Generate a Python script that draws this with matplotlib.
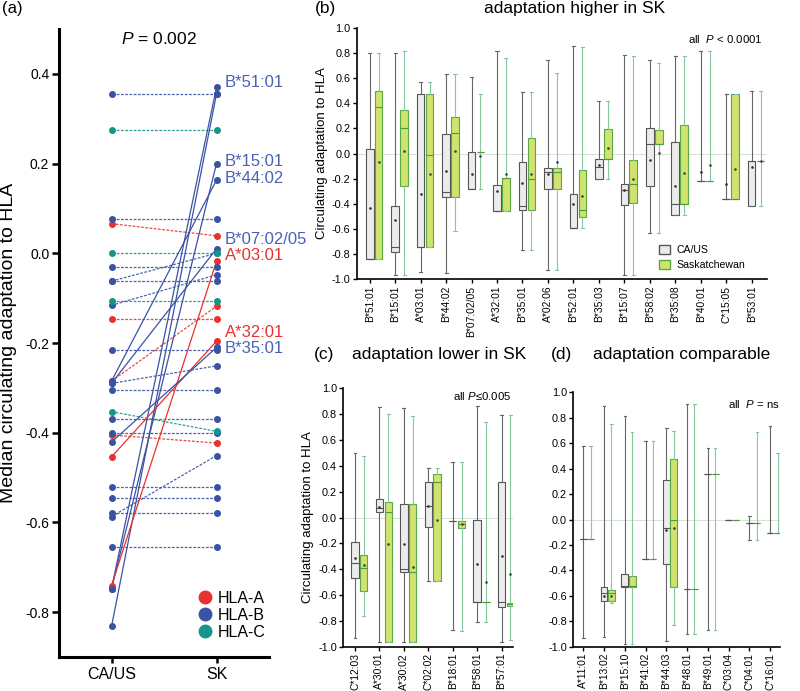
import numpy as np
import matplotlib
matplotlib.use('Agg')
import matplotlib.pyplot as plt
from matplotlib.lines import Line2D
from matplotlib.patches import Patch

plt.rcParams['font.family'] = ['Liberation Sans', 'DejaVu Sans']
plt.rcParams['mathtext.fontset'] = 'custom'
plt.rcParams['mathtext.rm'] = 'Liberation Sans'
plt.rcParams['mathtext.it'] = 'Liberation Sans:italic'
plt.rcParams['axes.unicode_minus'] = False

# ---- panel (a): median adaptation per allele, CA/US vs SK
a_ca = [0.355, 0.274, 0.077, 0.066, 0.0, -0.03, -0.062, -0.062, -0.107, -0.116,
        -0.146, -0.216, -0.285, -0.29, -0.304, -0.353, -0.369, -0.40, -0.405,
        -0.521, -0.546, -0.579, -0.587, -0.654,
        -0.832, -0.748, -0.748, -0.285, -0.29, -0.741, -0.454, -0.421]
a_sk = [0.355, 0.274, 0.077, 0.039, 0.0, -0.03, 0.0, -0.062, -0.107, -0.048,
        -0.146, -0.216, -0.118, -0.251, -0.304, -0.397, -0.369, -0.40, -0.423,
        -0.521, -0.546, -0.579, -0.451, -0.654,
        0.355, 0.37, 0.2, 0.163, 0.01, -0.018, -0.196, -0.21]
a_locus = ['B', 'C', 'B', 'A', 'C', 'B', 'B', 'B', 'C', 'B',
           'A', 'B', 'A', 'B', 'B', 'C', 'B', 'B', 'A',
           'B', 'B', 'B', 'B', 'B',
           'B', 'B', 'B', 'B', 'B', 'A', 'A', 'B']
a_sig = [False] * 24 + [True] * 8
a_labels = ['B*51:01', 'B*15:01', 'B*44:02', 'B*07:02/05', 'A*03:01', 'A*32:01', 'B*35:01']
a_label_locus = ['B', 'B', 'B', 'B', 'A', 'A', 'B']
a_label_y = [0.381, 0.204, 0.166, 0.031, -0.006, -0.176, -0.212]

# ---- panel (b): adaptation higher in SK
b_alleles = ['B*51:01', 'B*15:01', 'A*03:01', 'B*44:02', 'B*07:02/05', 'A*32:01', 'B*35:01',
             'A*02:06', 'B*52:01', 'B*35:03', 'B*15:07', 'B*58:02', 'B*35:08', 'B*40:01',
             'C*15:05', 'B*53:01']
b_ca_lo = [-0.84, -0.965, -0.945, -0.952, -0.285, -0.455, -0.767, -0.925, -0.595, -0.205, -0.965, -0.63, -0.49, -0.215, -0.365, -0.42]
b_ca_q1 = [-0.84, -0.785, -0.74, -0.348, -0.285, -0.455, -0.452, -0.285, -0.595, -0.205, -0.413, -0.26, -0.49, -0.215, -0.365, -0.42]
b_ca_med = [-0.835, -0.745, -0.74, -0.303, -0.285, -0.455, -0.417, -0.146, -0.59, -0.11, -0.29, 0.078, -0.40, -0.215, -0.365, -0.06]
b_ca_q3 = [0.036, -0.42, 0.475, 0.157, 0.012, -0.253, -0.07, -0.115, -0.325, -0.046, -0.243, 0.2, 0.088, -0.215, -0.365, -0.06]
b_ca_hi = [0.80, 0.80, 0.565, 0.63, 0.61, 0.817, 0.486, 0.74, 0.855, 0.417, 0.78, 0.743, 0.775, 0.815, 0.47, 0.5]
b_ca_mean = [-0.436, -0.53, -0.32, -0.137, -0.165, -0.30, -0.232, -0.163, -0.40, -0.094, -0.29, -0.052, -0.26, -0.15, -0.245, -0.105]
b_sk_lo = [-0.84, -0.965, -0.74, -0.62, -0.285, -0.455, -0.767, -0.925, -0.595, -0.205, -0.965, -0.63, -0.485, -0.215, -0.365, -0.42]
b_sk_q1 = [-0.835, -0.26, -0.74, -0.348, 0.01, -0.455, -0.452, -0.285, -0.507, -0.046, -0.396, 0.075, -0.40, -0.215, -0.365, -0.06]
b_sk_med = [0.372, 0.2, -0.015, 0.165, 0.01, -0.192, -0.205, -0.146, -0.45, -0.046, -0.245, 0.075, -0.40, -0.215, -0.365, -0.06]
b_sk_q3 = [0.497, 0.343, 0.475, 0.29, 0.01, -0.192, 0.126, -0.115, -0.13, 0.197, -0.05, 0.19, 0.224, -0.215, 0.47, -0.06]
b_sk_hi = [0.795, 0.817, 0.565, 0.63, 0.47, 0.76, 0.486, 0.64, 0.85, 0.417, 0.775, 0.722, 0.775, 0.815, 0.47, 0.5]
b_sk_mean = [-0.065, 0.022, -0.165, 0.022, -0.02, -0.163, -0.165, -0.065, -0.335, 0.041, -0.2, 0.007, -0.157, -0.094, -0.123, -0.06]

# ---- panel (c): adaptation lower in SK
c_alleles = ['C*12:03', 'A*30:01', 'A*30:02', 'C*02:02', 'B*18:01', 'B*58:01', 'B*57:01']
c_ca_lo = [-0.935, -0.961, -0.961, -0.492, -0.873, -0.81, -0.961]
c_ca_q1 = [-0.466, 0.04, -0.425, -0.074, -0.027, -0.655, -0.695]
c_ca_med = [-0.355, 0.071, -0.40, 0.09, -0.027, -0.655, -0.657]
c_ca_q3 = [-0.192, 0.14, 0.104, 0.277, -0.027, -0.02, 0.272]
c_ca_hi = [0.497, 0.858, 0.85, 0.38, 0.43, 0.863, 0.793]
c_ca_mean = [-0.31, 0.084, -0.207, 0.09, None, -0.36, -0.30]
c_sk_lo = [-0.763, -0.961, -0.961, -0.492, -0.877, -0.812, -0.948]
c_sk_q1 = [-0.57, -0.961, -0.961, -0.492, -0.08, -0.652, -0.685]
c_sk_med = [-0.394, 0.04, -0.425, 0.277, -0.05, -0.652, -0.67]
c_sk_q3 = [-0.293, 0.117, 0.104, 0.333, -0.027, -0.652, -0.658]
c_sk_hi = [0.476, 0.8, 0.785, 0.38, 0.43, 0.742, 0.793]
c_sk_mean = [-0.368, -0.207, -0.38, -0.02, -0.05, -0.497, -0.437]

# ---- panel (d): adaptation comparable
d_alleles = ['A*11:01', 'B*13:02', 'B*15:10', 'B*41:02', 'B*44:03', 'B*48:01', 'B*49:01',
             'C*03:04', 'C*04:01', 'C*16:01']
d_ca_lo = [-0.928, -0.923, -0.975, -0.307, -0.957, -0.904, -0.865, 0.0, -0.163, -0.105]
d_ca_q1 = [-0.15, -0.643, -0.53, -0.307, -0.346, -0.548, 0.357, 0.0, -0.03, -0.105]
d_ca_med = [-0.15, -0.575, -0.52, -0.307, -0.063, -0.548, 0.357, 0.0, -0.03, -0.105]
d_ca_q3 = [-0.15, -0.53, -0.432, -0.307, 0.31, -0.548, 0.357, 0.0, -0.03, -0.105]
d_ca_hi = [0.58, 0.89, 0.813, 0.616, 0.72, 0.905, 0.564, 0.0, 0.026, 0.737]
d_ca_mean = [None, -0.6, None, None, -0.08, None, None, None, None, None]
d_sk_lo = [-0.15, -0.66, -0.975, -0.307, -0.826, -0.904, -0.865, 0.0, -0.163, -0.105]
d_sk_q1 = [-0.15, -0.643, -0.53, -0.307, -0.53, -0.548, 0.357, 0.0, -0.03, -0.105]
d_sk_med = [-0.15, -0.575, -0.525, -0.307, 0.0, -0.548, 0.357, 0.0, -0.03, -0.105]
d_sk_q3 = [-0.15, -0.556, -0.443, -0.307, 0.472, -0.548, 0.357, 0.0, -0.03, -0.105]
d_sk_hi = [0.58, 0.747, 0.684, 0.616, 0.695, 0.905, 0.564, 0.0, 0.684, 0.52]
d_sk_mean = [None, -0.6, None, None, -0.063, None, None, None, None, None]

locus_colors = {'A': '#e8322e', 'B': '#3a52a3', 'C': '#17958a'}
label_colors = {'A': '#e8322e', 'B': '#4a62b4', 'C': '#17958a'}

W, H = 800, 691


def px_axes(fig, left, top, right, bottom):
    return fig.add_axes([left / W, 1 - bottom / H, (right - left) / W, (bottom - top) / H])


def fmt(v):
    v = round(v, 1)
    return '%.1f' % (0.0 if v == 0 else v)


def make_stats(lo, q1, med, q3, hi):
    return [dict(whislo=lo[i], q1=q1[i], med=med[i], q3=q3[i], whishi=hi[i], fliers=[])
            for i in range(len(lo))]


def draw_boxes(ax, names, ca, sk, ca_mean, sk_mean, xlim, width=0.3, offset=0.35):
    pos = np.arange(len(names))
    ax.axhline(0, color='#d3e3d3', lw=0.7, zorder=0)
    ax.bxp(make_stats(*ca), positions=pos, widths=width, patch_artist=True,
           showfliers=False, manage_ticks=False, capwidths=0.12,
           boxprops=dict(facecolor='#ececec', edgecolor='#555555', lw=0.8),
           whiskerprops=dict(color='#666666', lw=0.8),
           capprops=dict(color='#666666', lw=0.8),
           medianprops=dict(color='#555555', lw=0.8))
    ax.bxp(make_stats(*sk), positions=pos + offset, widths=width, patch_artist=True,
           showfliers=False, manage_ticks=False, capwidths=0.12,
           boxprops=dict(facecolor='#cfe36e', edgecolor='#5aa845', lw=0.8),
           whiskerprops=dict(color='#86c79d', lw=0.8),
           capprops=dict(color='#86c79d', lw=0.8),
           medianprops=dict(color='#4f9a3d', lw=0.8))
    cm = np.array([np.nan if v is None else v for v in ca_mean])
    sm = np.array([np.nan if v is None else v for v in sk_mean])
    ax.plot(pos, cm, ls='', marker='o', ms=0.9, color='#333333', zorder=5)
    ax.plot(pos + offset, sm, ls='', marker='o', ms=0.9, color='#444444', zorder=5)

    ax.set_xlim(*xlim)
    ax.set_ylim(-1.0, 1.0)
    yt = np.arange(-1.0, 1.01, 0.2)
    ax.set_yticks(yt)
    ax.set_yticklabels([fmt(v) for v in yt])
    ax.set_xticks(pos)
    ax.set_xticklabels(names, rotation=90, fontsize=7.4)
    ax.tick_params(axis='y', labelsize=7.8, length=3, width=1.0, pad=1.5)
    ax.tick_params(axis='x', length=3, width=1.0, pad=1.5)
    for s in ['top', 'right']:
        ax.spines[s].set_visible(False)
    for s in ['left', 'bottom']:
        ax.spines[s].set_linewidth(1.2)


fig = plt.figure(figsize=(W / 100, H / 100), dpi=100)

# ---------------- panel (a)
ax = px_axes(fig, 59, 29, 269, 657)
for i in range(len(a_ca)):
    col = locus_colors[a_locus[i]]
    if a_sig[i]:
        ax.plot([0, 1], [a_ca[i], a_sk[i]], color=col, lw=0.9, zorder=2)
    else:
        ax.plot([0, 1], [a_ca[i], a_sk[i]], color=col, lw=0.9, ls=(0, (2.2, 1.2)),
                alpha=0.9, zorder=1)
for loc in ['A', 'B', 'C']:
    idx = [i for i in range(len(a_ca)) if a_locus[i] == loc]
    ax.plot([0] * len(idx), [a_ca[i] for i in idx], ls='', marker='o', ms=4,
            color=locus_colors[loc], zorder=3)
    ax.plot([1] * len(idx), [a_sk[i] for i in idx], ls='', marker='o', ms=4,
            color=locus_colors[loc], zorder=3)
for lab, loc, yv in zip(a_labels, a_label_locus, a_label_y):
    ax.text(1.08, yv, lab, color=label_colors[loc], fontsize=12, va='center', ha='left',
            clip_on=False)
ax.text(0.45, 0.478, r'$\mathit{P}$ = 0.002', fontsize=12.5, ha='center', va='center')
ax.set_xlim(-0.5, 1.5)
ax.set_ylim(-0.9, 0.5)
ax.set_xticks([0, 1])
ax.set_xticklabels(['CA/US', 'SK'], fontsize=11.5)
yt = np.arange(-0.8, 0.41, 0.2)
ax.set_yticks(yt)
ax.set_yticklabels([fmt(v) for v in yt], fontsize=10)
ax.set_ylabel('Median circulating adaptation to HLA', fontsize=14, labelpad=6)
ax.tick_params(axis='y', length=5, width=1.8, pad=2)
ax.tick_params(axis='x', length=4, width=1.8, pad=3)
for s in ['top', 'right']:
    ax.spines[s].set_visible(False)
for s in ['left', 'bottom']:
    ax.spines[s].set_linewidth(2.2)
handles = [Line2D([], [], ls='', marker='o', ms=9, color=locus_colors[k]) for k in ['A', 'B', 'C']]
ax.legend(handles, ['HLA-A', 'HLA-B', 'HLA-C'], loc='lower right', bbox_to_anchor=(1.02, 0.015),
          frameon=False, fontsize=11.5, handletextpad=0.2, labelspacing=0.12, borderpad=0,
          handlelength=1.2)

# ---------------- panel (b)
ax = px_axes(fig, 356.7, 27.7, 766.7, 279.3)
draw_boxes(ax, b_alleles,
           (b_ca_lo, b_ca_q1, b_ca_med, b_ca_q3, b_ca_hi),
           (b_sk_lo, b_sk_q1, b_sk_med, b_sk_q3, b_sk_hi),
           b_ca_mean, b_sk_mean, (-0.51, 15.59))
ax.set_ylabel('Circulating adaptation to HLA', fontsize=9.5, labelpad=3)
ax.text(0.99, 0.955, r'all  $\mathit{P}$ < 0.0001', transform=ax.transAxes, fontsize=8.2,
        ha='right', va='center')
leg_handles = [Patch(facecolor='#ececec', edgecolor='#555555', lw=1.0),
               Patch(facecolor='#cfe36e', edgecolor='#5aa845', lw=1.0)]
ax.legend(leg_handles, ['CA/US', 'Saskatchewan'], loc='lower left', bbox_to_anchor=(0.725, 0.015),
          frameon=False, fontsize=7.6, handlelength=1.0, handleheight=1.0, handletextpad=0.6,
          labelspacing=0.45, borderpad=0)

# ---------------- panel (c)
ax = px_axes(fig, 343.3, 388.3, 513.3, 646.7)
draw_boxes(ax, c_alleles,
           (c_ca_lo, c_ca_q1, c_ca_med, c_ca_q3, c_ca_hi),
           (c_sk_lo, c_sk_q1, c_sk_med, c_sk_q3, c_sk_hi),
           c_ca_mean, c_sk_mean, (-0.48, 6.48), offset=0.36)
ax.set_ylabel('Circulating adaptation to HLA', fontsize=9.5, labelpad=3)
ax.text(0.99, 0.97, r'all $\mathit{P}$≤0.005', transform=ax.transAxes, fontsize=8.2,
        ha='right', va='center')

# ---------------- panel (d)
ax = px_axes(fig, 573.3, 392.3, 780, 646.7)
draw_boxes(ax, d_alleles,
           (d_ca_lo, d_ca_q1, d_ca_med, d_ca_q3, d_ca_hi),
           (d_sk_lo, d_sk_q1, d_sk_med, d_sk_q3, d_sk_hi),
           d_ca_mean, d_sk_mean, (-0.48, 9.48), width=0.32, offset=0.36)
ax.text(1.0, 0.955, r'all  $\mathit{P}$ = ns', transform=ax.transAxes, fontsize=8.2,
        ha='right', va='center')

# ---------------- panel letters and titles
fig.text(2 / W, 1 - 9 / H, '(a)', fontsize=12, ha='left', va='center')
fig.text(315 / W, 1 - 8 / H, '(b)', fontsize=12.5, ha='left', va='center')
fig.text(575 / W, 1 - 8 / H, 'adaptation higher in SK', fontsize=12.5, ha='center', va='center')
fig.text(314 / W, 1 - 355 / H, '(c)', fontsize=12.5, ha='left', va='center')
fig.text(439 / W, 1 - 355 / H, 'adaptation lower in SK', fontsize=12.5, ha='center', va='center')
fig.text(551 / W, 1 - 355 / H, '(d)', fontsize=12.5, ha='left', va='center')
fig.text(682 / W, 1 - 355 / H, 'adaptation comparable', fontsize=12.5, ha='center', va='center')

fig.savefig('out.png', dpi=100)
